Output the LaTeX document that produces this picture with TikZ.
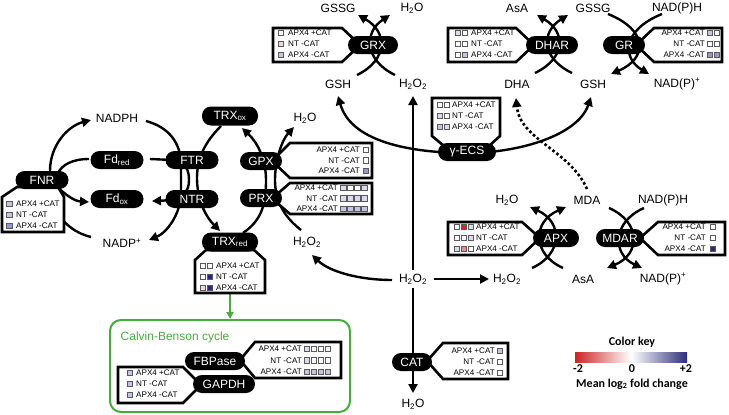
\documentclass[tikz,border=0pt]{standalone}
\usepackage{fontspec}
\setmainfont{Liberation Sans}
\newfontfamily\keyfont{Carlito}
\usetikzlibrary{arrows.meta}
\definecolor{lA}{RGB}{218,218,236}
\definecolor{lB}{RGB}{196,196,228}
\definecolor{lC}{RGB}{150,150,206}
\definecolor{nv}{RGB}{40,40,128}
\definecolor{rd}{RGB}{212,40,40}
\definecolor{pk}{RGB}{234,140,140}
\definecolor{lp}{RGB}{246,214,214}
\definecolor{sqb}{RGB}{90,90,90}
\definecolor{cgreen}{RGB}{72,170,64}
\definecolor{keyred}{RGB}{205,35,35}
\definecolor{keyblue}{RGB}{45,45,125}
\newcommand{\sqrow}[3]{\foreach \cc [count=\ii from 0] in {#3} {\draw[sqr,fill=\cc] ({#1+7*\ii-2.75},{#2-2.75}) rectangle ++(5.5,5.5);}}
\newcommand{\lbox}[8]{%
  \sqrow{#2}{#4}{#5}\node[bt,anchor=west] (#1a) at ({#3},{#4}) {APX4 +CAT};
  \sqrow{#2}{#4+#8}{#6}\node[bt,anchor=west] (#1b) at ({#3},{#4+#8}) {NT -CAT};
  \sqrow{#2}{#4+2*#8}{#7}\node[bt,anchor=west] (#1c) at ({#3},{#4+2*#8}) {APX4 -CAT};}
\newcommand{\rbox}[8]{%
  \sqrow{#2}{#4}{#5}\node[bt,anchor=east] (#1a) at ({#3},{#4}) {APX4 +CAT};
  \sqrow{#2}{#4+#8}{#6}\node[bt,anchor=east] (#1b) at ({#3},{#4+#8}) {NT -CAT};
  \sqrow{#2}{#4+2*#8}{#7}\node[bt,anchor=east] (#1c) at ({#3},{#4+2*#8}) {APX4 -CAT};}
\begin{document}
\begin{tikzpicture}[x=1pt,y=-1pt,
  lbl/.style={font=\fontsize{12}{14}\selectfont, inner sep=0.5pt},
  enz/.style={fill=black, text=white, rounded corners=9pt, minimum height=18pt, inner sep=0pt, font=\fontsize{12}{14}\selectfont},
  bx/.style={draw=black, fill=white, line width=2.6pt, line join=miter},
  con/.style={line width=2.4pt},
  arr/.style={con, -{Triangle[length=9pt,width=9pt]}},
  darr/.style={con, {Triangle[length=9pt,width=9pt]}-{Triangle[length=9pt,width=9pt]}},
  bt/.style={font=\fontsize{8.1}{9}\selectfont, inner sep=0pt},
  sqr/.style={draw=sqb, line width=0.6pt},
  keyf/.style={font=\keyfont\bfseries\fontsize{12}{14}\selectfont, inner sep=0.5pt}]
\useasboundingbox (0,0) rectangle (729,415);

% ---------- metabolite labels
\node[lbl] (nadph) at (117,118) {NADPH};
\node[lbl] (nadpp) at (122,243) {NADP\textsuperscript{+}};
\node[lbl] (h2oA) at (305,118) {H\textsubscript{2}O};
\node[lbl] (h2o2A) at (307,242) {H\textsubscript{2}O\textsubscript{2}};
\node[lbl] (gssgA) at (338,8) {GSSG};
\node[lbl] (h2oB) at (412,8) {H\textsubscript{2}O};
\node[lbl] (gshA) at (338,84) {GSH};
\node[lbl] (h2o2B) at (413,84) {H\textsubscript{2}O\textsubscript{2}};
\node[lbl] (asaA) at (517,8) {AsA};
\node[lbl] (gssgB) at (593,8) {GSSG};
\node[lbl] (nadphB) at (677,8) {NAD(P)H};
\node[lbl] (dha) at (517,84) {DHA};
\node[lbl] (gshB) at (593,84) {GSH};
\node[lbl] (nadppB) at (677,84) {NAD(P)\textsuperscript{+}};
\node[lbl] (h2oC) at (507,200) {H\textsubscript{2}O};
\node[lbl] (mda) at (587,200) {MDA};
\node[lbl] (nadphC) at (663,200) {NAD(P)H};
\node[lbl] (h2o2C) at (413,279) {H\textsubscript{2}O\textsubscript{2}};
\node[lbl] (h2o2D) at (507,279) {H\textsubscript{2}O\textsubscript{2}};
\node[lbl] (asaB) at (583,279) {AsA};
\node[lbl] (nadppC) at (663,279) {NAD(P)\textsuperscript{+}};
\node[lbl] (h2oD) at (413,404) {H\textsubscript{2}O};

% ---------- connectors
% FNR
\draw[arr] (50,171) .. controls (50,145) and (68,126) .. (91,120);
\draw[con] (89,159) .. controls (72,159) and (62,165) .. (58,173);
\draw[arr] (56,186) .. controls (66,195) and (74,201) .. (89,202);
\draw[con] (50,205) .. controls (65,225) and (75,233) .. (91,237);
% FTR / NTR
\draw[arr] (146,121) .. controls (168,127) and (181,142) .. (181,165) -- (181,192) .. controls (181,215) and (166,233) .. (149,240);
\draw[arr] (150,159) -- (172,160) .. controls (186,162) and (189,170) .. (189,180) .. controls (189,192) and (183,200) .. (152,201);
\draw[arr] (221,126) .. controls (205,142) and (197,158) .. (197,178) .. controls (197,200) and (206,217) .. (220,231);
% GPX / PRX
\draw[arr] (243,233) .. controls (262,220) and (266,204) .. (266,180) .. controls (266,160) and (258,143) .. (242,128);
\draw[arr] (301,230) .. controls (283,216) and (275,200) .. (275,180) .. controls (275,160) and (282,140) .. (294,127);
% GRX
\draw[arr] (357,75) .. controls (388,60) and (388,32) .. (358,15);
\draw[arr] (395,75) .. controls (364,60) and (364,32) .. (390,15);
% DHAR
\draw[arr] (535,73) .. controls (566,58) and (566,32) .. (537,15);
\draw[arr] (572,73) .. controls (541,58) and (541,32) .. (568,15);
% GR
\draw[arr] (608,14) .. controls (648,30) and (648,58) .. (611,74);
\draw[arr] (662,14) .. controls (622,30) and (622,58) .. (649,74);
% gamma-ECS arc
\draw[darr] (338,96) .. controls (352,145) and (420,153) .. (467,153) .. controls (520,153) and (578,135) .. (591,97);
% H2O2 hub
\draw[arr] (413,270) -- (413,96);
\draw[arr] (413,288) -- (413,393);
\draw[arr] (434,279) -- (489,279);
\draw[arr] (392,280) .. controls (360,280) and (330,272) .. (312,255);
% dotted MDA -> DHA
\draw[con, line width=2.6pt, dash pattern=on 2.6pt off 2.4pt, -{Triangle[length=9pt,width=9pt]}] (587,189) .. controls (570,150) and (520,140) .. (516,98);
% APX
\draw[arr] (532,268) .. controls (563,254) and (563,222) .. (530,207);
\draw[arr] (563,268) .. controls (532,254) and (532,222) .. (566,207);
% MDAR
\draw[arr] (609,208) .. controls (641,222) and (641,254) .. (607,268);
\draw[arr] (644,208) .. controls (612,222) and (612,254) .. (642,268);
% green arrow
\draw[line width=2pt, cgreen, -{Triangle[length=7pt,width=7pt]}] (230,294) -- (230,319);

% ---------- boxes
\draw[bx] (2,232) -- (2,197) -- (17,187) -- (58,187) -- (64,197) -- (64,232) -- cycle;
\draw[bx] (273,28) -- (342,28) -- (360,45) -- (342,62) -- (273,62) -- cycle;
\draw[bx] (448,28) -- (516,28) -- (534,45) -- (516,62) -- (448,62) -- cycle;
\draw[bx] (722,28) -- (654,28) -- (636,45) -- (654,62) -- (722,62) -- cycle;
\draw[bx] (432,98) -- (500,98) -- (500,136) -- (489,146) -- (444,146) -- (432,136) -- cycle;
\draw[bx] (372,143) -- (290,143) -- (272,161) -- (290,178) -- (372,178) -- cycle;
\draw[bx] (372,183) -- (290,183) -- (272,198.5) -- (290,214) -- (372,214) -- cycle;
\draw[bx] (195,293) -- (195,260) -- (206,250) -- (254,250) -- (265,260) -- (265,293) -- cycle;
\draw[bx] (448,222) -- (522,222) -- (540,238) -- (522,255) -- (448,255) -- cycle;
\draw[bx] (725,222) -- (658,222) -- (640,238) -- (658,255) -- (725,255) -- cycle;
\draw[bx] (508,343) -- (443,343) -- (427,361) -- (443,379) -- (508,379) -- cycle;
\draw[cgreen, line width=2pt, rounded corners=11pt] (110,320) rectangle (350,412);
\draw[bx] (341,342) -- (255,342) -- (240,360) -- (255,378) -- (341,378) -- cycle;
\draw[bx] (118,367) -- (183,367) -- (201,385) -- (183,403) -- (118,403) -- cycle;

% ---------- enzymes
\node[enz, minimum width=53pt] (fnr) at (42,180) {FNR};
\node[enz, minimum width=53pt] (fdr) at (117,160) {Fd\textsubscript{red}};
\node[enz, minimum width=53pt] (fdo) at (117,199) {Fd\textsubscript{ox}};
\node[enz, minimum width=53pt] (ftr) at (192,160) {FTR};
\node[enz, minimum width=53pt] (ntr) at (192,199) {NTR};
\node[enz, minimum width=56pt, minimum height=19pt] (trxo) at (230,116) {TRX\textsubscript{ox}};
\node[enz, minimum width=56pt, minimum height=19pt] (trxr) at (230,242) {TRX\textsubscript{red}};
\node[enz, minimum width=42pt] (gpx) at (261,161) {GPX};
\node[enz, minimum width=42pt] (prx) at (261,198) {PRX};
\node[enz, minimum width=50pt] (grx) at (373,45) {GRX};
\node[enz, minimum width=52pt] (dhar) at (552,45) {DHAR};
\node[enz, minimum width=42pt] (gr) at (624,45) {GR};
\node[enz, minimum width=58pt] (gecs) at (467,152) {γ-ECS};
\node[enz, minimum width=46pt] (apx) at (556,238) {APX};
\node[enz, minimum width=48pt] (mdar) at (620,238) {MDAR};
\node[enz, minimum width=40pt] (cat) at (412,362) {CAT};
\node[enz, minimum width=60pt] (fbp) at (215,361) {FBPase};
\node[enz, minimum width=62pt] (gapdh) at (224,384) {GAPDH};

% ---------- box contents
\lbox{fnrt}{9.5}{16}{204}{lB}{lB}{lC}{11}
\lbox{grxt}{281}{288}{33}{white}{lp}{lB}{11}
\lbox{dhart}{458}{471}{33}{lA,white}{white,white}{white,lB}{11}
\lbox{gecst}{440}{452}{105}{white,white}{lA,white}{lB,lA}{11}
\lbox{trxt}{203}{216}{266}{white,white}{white,nv}{lp,nv}{11}
\lbox{apxt}{457}{476}{227}{white,rd,lA}{white,white,lA}{lA,pk,white}{11}
\lbox{gapt}{130}{136}{373}{lB}{lB}{lB}{11}
\rbox{gpxt}{366}{360}{150}{white}{white}{lC}{10.5}
\rbox{prxt}{343.5}{338}{188}{lA,white,white,lA}{lA,lA,lA,lA}{lB,lB,lB,lB}{10.5}
\rbox{grt}{710}{705}{33}{lB,white}{white,white}{lC,lC}{11}
\rbox{mdart}{713}{706}{227}{white}{white}{nv}{11}
\rbox{catt}{500}{495}{351}{lB}{white}{white}{11}
\rbox{fbpt}{307}{302}{349}{lA,white,white,white}{lA,white,white,white}{lB,lB,lB,lB}{11.5}

% ---------- Calvin-Benson label
\node[lbl, text=cgreen, anchor=west] (cbc) at (120,337) {Calvin-Benson cycle};

% ---------- colour key
\shade[left color=keyred, right color=white] (575,352) rectangle (631,362);
\shade[left color=white, right color=keyblue] (631,352) rectangle (687,362);
\node[keyf] (ckey) at (632,342) {Color key};
\node[keyf] (km2) at (578,369) {-2};
\node[keyf] (k0) at (632,369) {0};
\node[keyf] (kp2) at (686,369) {+2};
\node[keyf] (kmean) at (632,384) {Mean log\textsubscript{2} fold change};
\end{tikzpicture}
\end{document}
